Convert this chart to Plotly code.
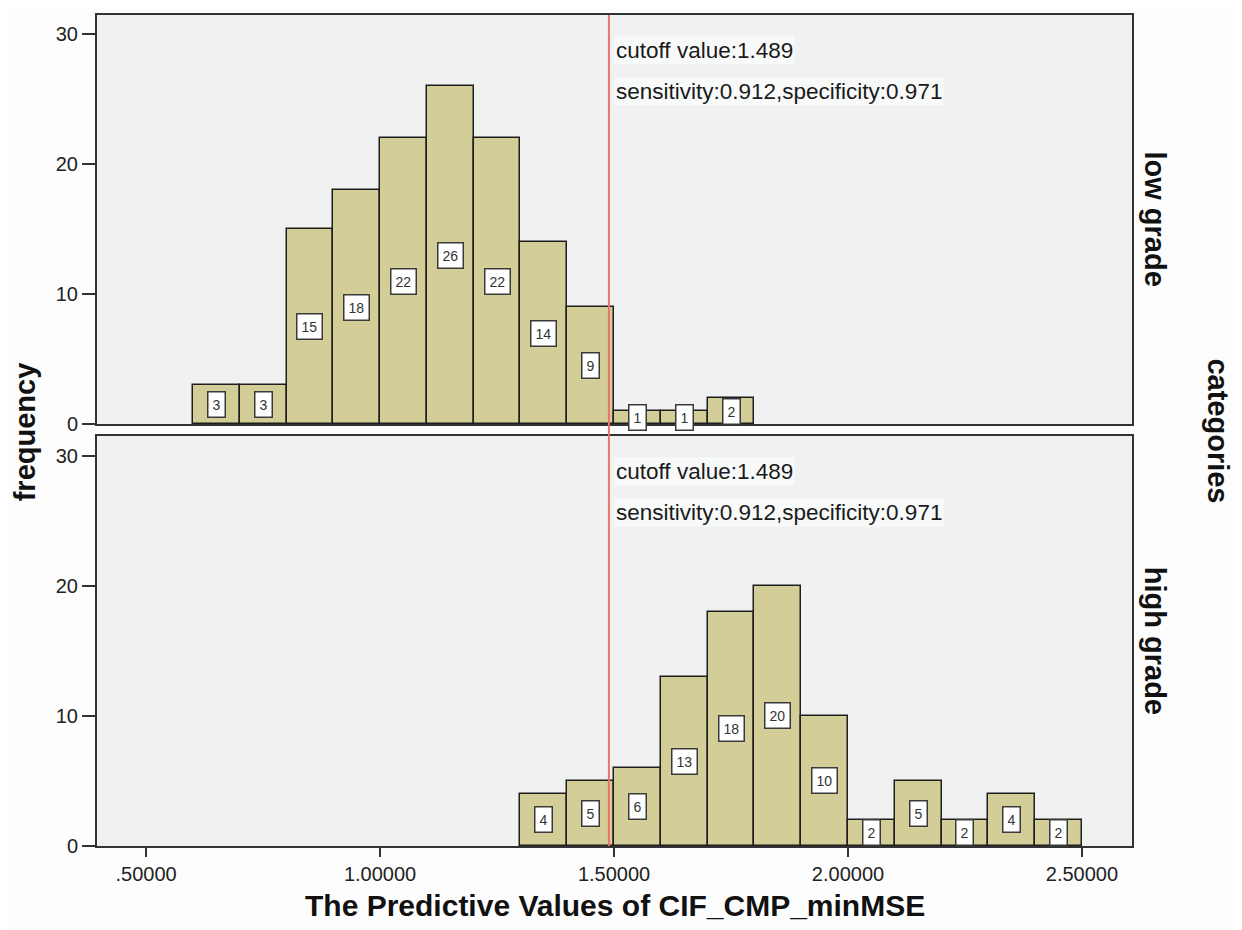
import plotly.graph_objects as go

# ---- data ----
bin_start = 0.6
bin_width = 0.1
low_grade_counts = [3, 3, 15, 18, 22, 26, 22, 14, 9, 1, 1, 2]          # bins 0..11
high_grade_first_bin = 7
high_grade_counts = [4, 5, 6, 13, 18, 20, 10, 2, 5, 2, 4, 2]          # bins 7..18
cutoff = 1.489
text_line1 = "cutoff value:1.489"
text_line2 = "sensitivity:0.912,specificity:0.971"
x_tick_vals = [0.5, 1.0, 1.5, 2.0, 2.5]
x_tick_text = [".50000", "1.00000", "1.50000", "2.00000", "2.50000"]
y_tick_vals = [0, 10, 20, 30]

low_centers = [bin_start + bin_width * (i + 0.5) for i in range(len(low_grade_counts))]
high_centers = [bin_start + bin_width * (high_grade_first_bin + i + 0.5) for i in range(len(high_grade_counts))]

FONT = "Arial, Liberation Sans, sans-serif"
BAR = "#D3CE97"
EDGE = "#1e1e1e"
PLOTBG = "#F0F1F1"

fig = go.Figure()
fig.add_trace(go.Bar(x=low_centers, y=low_grade_counts, width=bin_width,
                     marker=dict(color=BAR, line=dict(color=EDGE, width=1.5)),
                     xaxis="x2", yaxis="y2", showlegend=False, hoverinfo="x+y"))
fig.add_trace(go.Bar(x=high_centers, y=high_grade_counts, width=bin_width,
                     marker=dict(color=BAR, line=dict(color=EDGE, width=1.5)),
                     xaxis="x", yaxis="y", showlegend=False, hoverinfo="x+y"))

label_style = dict(showarrow=False, font=dict(family=FONT, size=14, color="#333"), bgcolor="white",
                   bordercolor="#3a3a3a", borderwidth=1.5, borderpad=4)
annotations = []
for xc, h in zip(low_centers, low_grade_counts):
    annotations.append(dict(x=xc, y=h / 2, xref="x2", yref="y2", text=str(h), **label_style))
for xc, h in zip(high_centers, high_grade_counts):
    annotations.append(dict(x=xc, y=h / 2, xref="x", yref="y", text=str(h), **label_style))

for xr, yr, y1, y2 in [("x2", "y2", 28.8, 25.6), ("x", "y", 28.8, 25.6)]:
    for yy, txt in [(y1, text_line1), (y2, text_line2)]:
        annotations.append(dict(x=cutoff, y=yy, xref=xr, yref=yr, text=txt, showarrow=False,
                                xanchor="left", xshift=5, font=dict(family=FONT, size=22.5, color="#1a1a1a"),
                                bgcolor="rgba(255,255,255,0.55)", borderpad=1))

side_font = dict(family=FONT, size=29, color="#111")
side = dict(xref="paper", yref="paper", showarrow=False, font=side_font, xanchor="center", yanchor="middle")
annotations += [
    dict(x=1.0222, y=0.754, text="<b>low grade</b>", textangle=90, **side),
    dict(x=1.0222, y=0.247, text="<b>high grade</b>", textangle=90, **side),
    dict(x=1.083, y=0.499, text="<b>categories</b>", textangle=90, **side),
    dict(x=-0.0696, y=0.499, text="<b>frequency</b>", textangle=-90, **side),
    dict(x=0.5, y=-0.072, text="<b>The Predictive Values of CIF_CMP_minMSE</b>",
         **{**side, "font": dict(family=FONT, size=30, color="#111")}),
]

axis_common = dict(showgrid=False, zeroline=False, showline=True, linecolor="#333", linewidth=2,
                   mirror=True, tickcolor="#333", tickwidth=2,
                   tickfont=dict(family=FONT, size=20, color="#222"))

fig.update_layout(
    width=1234, height=922,
    margin=dict(l=89, r=110, t=5, b=84),
    paper_bgcolor="#FDFDFE", plot_bgcolor=PLOTBG,
    bargap=0,
    font=dict(family=FONT),
    xaxis=dict(range=[0.395, 2.607], anchor="y", tickvals=x_tick_vals, ticktext=x_tick_text,
               ticks="outside", ticklen=9, **axis_common),
    yaxis=dict(range=[0, 31.5], domain=[0, 0.4934], anchor="x", tickvals=y_tick_vals,
               ticks="outside", ticklen=13, **axis_common),
    xaxis2=dict(range=[0.395, 2.607], anchor="y2", matches="x", showticklabels=False, ticks="",
                **axis_common),
    yaxis2=dict(range=[0, 31.5], domain=[0.5078, 1.0], anchor="x2", tickvals=y_tick_vals,
                ticks="outside", ticklen=13, **axis_common),
    annotations=annotations,
    shapes=[dict(type="line", xref="x", yref="paper", x0=cutoff, x1=cutoff, y0=0, y1=1,
                 line=dict(color="#F07070", width=2), layer="above")],
)

fig.write_html("out.html")
